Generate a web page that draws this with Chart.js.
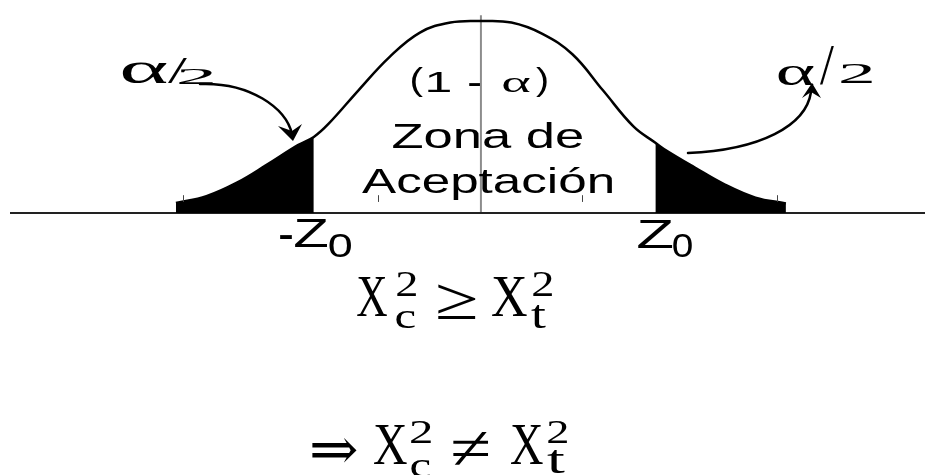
<!DOCTYPE html>
<html>
<head>
<meta charset="utf-8">
<script src="https://cdn.jsdelivr.net/npm/chart.js@4"></script>
<style>
html,body{margin:0;padding:0;background:#fff;overflow:hidden}
#wrap{width:925px;height:475px}
</style>
</head>
<body>
<div id="wrap"><canvas id="grafico" width="925" height="475"></canvas></div>
<script>
// ── datos (z vs densidad) ──
const zCurva   = [-2.5,-2.25,-2,-1.75,-1.5,-1.37,-1.25,-1,-0.75,-0.5,-0.25,0,0.25,0.5,0.75,1,1.25,1.43,1.5,1.75,2,2.25,2.5];
const densidad = [0.021,0.035,0.063,0.101,0.141,0.158,0.185,0.256,0.324,0.375,0.396,0.399,0.396,0.373,0.330,0.255,0.180,0.146,0.133,0.095,0.059,0.032,0.020];
const zCritIzq = -1.37;   // -Z0
const zCritDer = 1.43;    // Z0
const marcas   = [-2.44,-0.84,0.83,2.43];
const ejeZ     = [-3.86,3.64];
const altoCentro = 0.411;

const puntos=zCurva.map((z,i)=>({x:z,y:densidad[i]}));
const colaIzq=puntos.filter(p=>p.x<=zCritIzq);
const colaDer=puntos.filter(p=>p.x>=zCritDer);

// texto ajustado a una caja (tinta) en píxeles
function caja(ctx,str,fam,x0,y0,x1,y1){
  ctx.font='100px '+fam;
  const m=ctx.measureText(str);
  const w=m.actualBoundingBoxLeft+m.actualBoundingBoxRight;
  const h=m.actualBoundingBoxAscent+m.actualBoundingBoxDescent;
  const sx=(x1-x0)/w,sy=(y1-y0)/h;
  ctx.save();
  ctx.translate(x0+m.actualBoundingBoxLeft*sx,y0+m.actualBoundingBoxAscent*sy);
  ctx.scale(sx,sy);
  ctx.fillText(str,0,0);
  ctx.restore();
}
// texto ajustado solo en ancho
function ancho(ctx,str,font,x0,x1,base){
  ctx.font=font;
  const m=ctx.measureText(str);
  const w=m.actualBoundingBoxLeft+m.actualBoundingBoxRight;
  const sx=(x1-x0)/w;
  ctx.save();
  ctx.translate(x0+m.actualBoundingBoxLeft*sx,base);
  ctx.scale(sx,1);
  ctx.fillText(str,0,0);
  ctx.restore();
}

const SANS="'Liberation Sans', Arial, sans-serif";
const SERIF="'Liberation Serif', 'DejaVu Serif', serif";

const anotaciones={
  id:'anotaciones',
  afterDatasetsDraw(chart){
    const ctx=chart.ctx,xs=chart.scales.x,ys=chart.scales.y;
    ctx.save();
    ctx.fillStyle='#000';ctx.textAlign='left';ctx.textBaseline='alphabetic';

    // marcas pequeñas sobre el eje
    ctx.strokeStyle='#444';ctx.lineWidth=1;
    marcas.forEach(z=>{
      const px=Math.round(xs.getPixelForValue(z))+0.5;
      ctx.beginPath();ctx.moveTo(px,ys.getPixelForValue(0.023));ctx.lineTo(px,ys.getPixelForValue(0.037));ctx.stroke();
    });

    // α/2 izquierda y derecha
    caja(ctx,'α',SERIF,122,62,167,83);
    caja(ctx,'/',SERIF,168,59,187,84);
    caja(ctx,'2',SERIF,179,68,213,84);
    caja(ctx,'α',SERIF,778,66,814,85);
    caja(ctx,'/',SERIF,820,47,834,85);
    caja(ctx,'2',SERIF,841,63,872,83);

    // (1 - α)
    caja(ctx,'(',SANS,412,67,423,97);
    caja(ctx,'1',SANS,428,72,450,92);
    caja(ctx,'-',SANS,469,82,480,85);
    caja(ctx,'α',SERIF,503,78,530,92);
    caja(ctx,')',SANS,536,67,547,97);

    // Zona de Aceptación
    ancho(ctx,'Zona de','35px '+SANS,393,582,148);
    ancho(ctx,'Aceptación','35px '+SANS,362,613,193);

    // -Z0 y Z0
    caja(ctx,'-',SANS,280,234,292,238);
    caja(ctx,'Z',SANS,295,219,327,247);
    caja(ctx,'0',SANS,329,233,351,257);
    caja(ctx,'Z',SANS,638,220,672,248);
    caja(ctx,'0',SANS,673,233,692,257);

    // flechas
    ctx.strokeStyle='#000';ctx.lineWidth=2.5;ctx.lineCap='round';
    ctx.beginPath();ctx.moveTo(200,84);ctx.bezierCurveTo(250,82,286,108,292,134);ctx.stroke();
    ctx.beginPath();ctx.moveTo(293,141);ctx.lineTo(278,126);ctx.lineTo(292,131);ctx.lineTo(302,124);ctx.closePath();ctx.fill();
    ctx.beginPath();ctx.moveTo(688,153);ctx.bezierCurveTo(760,150,806,126,811,92);ctx.stroke();
    ctx.beginPath();ctx.moveTo(812,83);ctx.lineTo(802,98);ctx.lineTo(811,92);ctx.lineTo(821,98);ctx.closePath();ctx.fill();

    // fórmulas
    caja(ctx,'X',SERIF,357,278,387,317);
    caja(ctx,'2',SERIF,397,272,416,296);
    caja(ctx,'c',SERIF,396,311,415,328);
    caja(ctx,'≥',SERIF,437,284,475,319);
    caja(ctx,'X',SERIF,492,278,527,317);
    caja(ctx,'2',SERIF,533,272,552,296);
    caja(ctx,'t',SERIF,531,305,546,328);

    caja(ctx,'⇒',SERIF,312,438,357,462);
    caja(ctx,'X',SERIF,374,426,407,465);
    caja(ctx,'2',SERIF,411,420,431,443);
    caja(ctx,'c',SERIF,411,460,430,477);
    caja(ctx,'≠',SERIF,453,432,488,465);
    caja(ctx,'X',SERIF,511,426,543,465);
    caja(ctx,'2',SERIF,548,420,567,443);
    caja(ctx,'t',SERIF,547,450,565,473);
    ctx.restore();
  }
};

new Chart(document.getElementById('grafico'),{
  type:'line',
  data:{datasets:[
    {label:'curva',data:puntos,borderColor:'#000',borderWidth:2.5,pointRadius:0,fill:false,tension:0.4,clip:false},
    {label:'cola izq',data:colaIzq,borderColor:'#000',borderWidth:0,backgroundColor:'#000',pointRadius:0,fill:'origin',tension:0.4,clip:false},
    {label:'cola der',data:colaDer,borderColor:'#000',borderWidth:0,backgroundColor:'#000',pointRadius:0,fill:'origin',tension:0.4,clip:false},
    {label:'eje',data:[{x:ejeZ[0],y:0},{x:ejeZ[1],y:0}],borderColor:'#222',borderWidth:2,pointRadius:0,fill:false,clip:false},
    {label:'centro',data:[{x:0,y:0},{x:0,y:altoCentro}],borderColor:'#8c8c8c',borderWidth:2,pointRadius:0,fill:false,clip:false}
  ]},
  options:{
    responsive:false,animation:false,devicePixelRatio:1,
    layout:{padding:{left:10,right:0,top:0,bottom:262}},
    plugins:{legend:{display:false},tooltip:{enabled:false}},
    scales:{
      x:{type:'linear',min:ejeZ[0],max:ejeZ[1],display:false},
      y:{min:0,max:0.4427,display:false}
    }
  },
  plugins:[anotaciones]
});
</script>
</body>
</html>
